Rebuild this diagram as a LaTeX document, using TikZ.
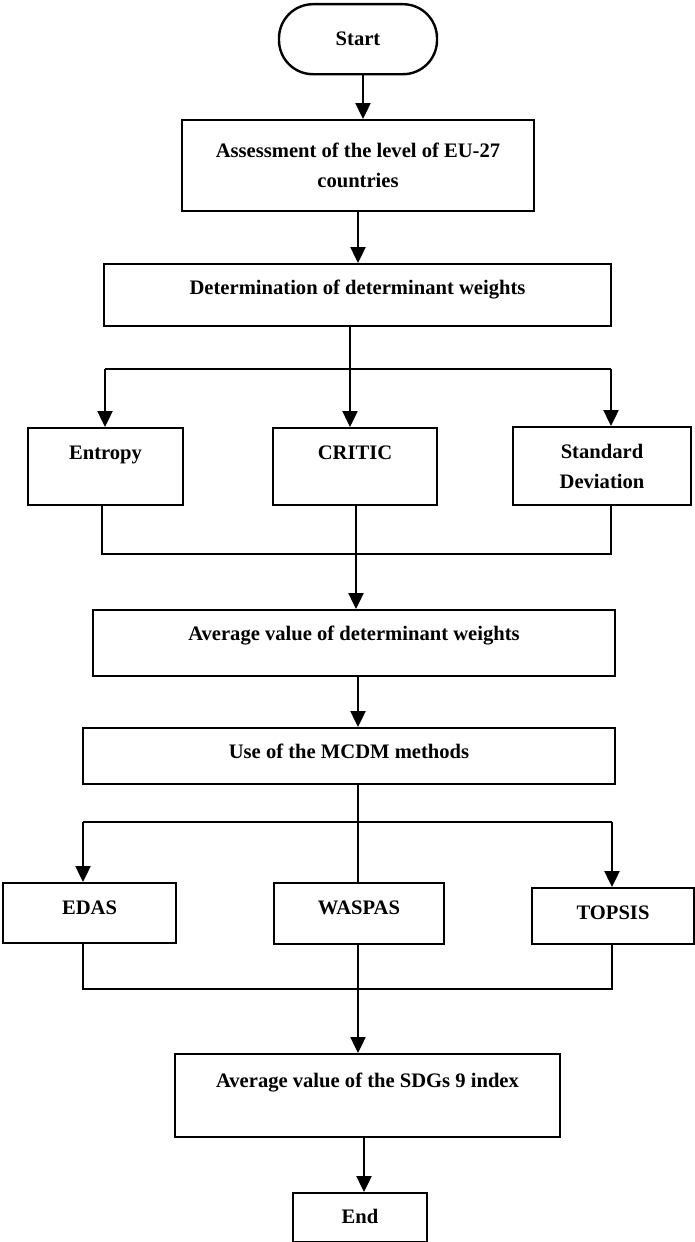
\documentclass[tikz,border=0pt]{standalone}
\usepackage{fontspec}
\setmainfont{Liberation Serif}
\usetikzlibrary{arrows.meta}
\tikzset{>={Triangle[length=8pt,width=7.5pt]}}
\tikzset{
    box/.style={draw, line width=1.2pt, anchor=north, inner xsep=2pt, inner ysep=0pt,
        font=\bfseries\fontsize{10.3}{15}\selectfont},
    flow/.style={line width=1.2pt},
}

\begin{document}
\begin{tikzpicture}[x=0.5pt, y=-0.5pt]
    \useasboundingbox (0,0) rectangle (695,1242);
    % main column
    \node[box, rounded corners=17pt, minimum width=79pt, text height=20.5pt, text depth=14.5pt] (start) at (358,3) {Start};
    \node[box, minimum width=176pt, minimum height=45.5pt, align=center] (assess) at (358,119) {Assessment of the level of EU-27\\countries};
    \node[box, minimum width=253.5pt, text height=15pt, text depth=16pt] (determ) at (357.5,263) {Determination of determinant weights};
    % weighting methods
    \node[box, minimum width=77.5pt, text height=15.5pt, text depth=23pt] (entropy) at (105.5,427) {Entropy};
    \node[box, minimum width=82pt, text height=15.5pt, text depth=23pt] (critic) at (355,427) {CRITIC};
    \node[box, minimum width=89pt, minimum height=39pt, align=center] (sd) at (602,426) {Standard\\Deviation};
    \node[box, minimum width=261pt, text height=15pt, text depth=18pt] (avgw) at (354,609) {Average value of determinant weights};
    \node[box, minimum width=266pt, text height=15pt, text depth=13pt] (mcdm) at (349,727) {Use of the MCDM methods};
    % ranking methods
    \node[box, minimum width=86.5pt, text height=15.5pt, text depth=14.5pt] (edas) at (89.5,882) {EDAS};
    \node[box, minimum width=85pt, text height=15.5pt, text depth=15pt] (waspas) at (359,882) {WASPAS};
    \node[box, minimum width=81pt, text height=15.5pt, text depth=12.5pt] (topsis) at (613,887) {TOPSIS};
    \node[box, minimum width=192.5pt, text height=16.5pt, text depth=25pt] (sdgs) at (367.5,1053) {Average value of the SDGs 9 index};
    \node[box, minimum width=67pt, text height=15pt, text depth=9.5pt] (finish) at (360,1192) {End};

    % junction points
    \coordinate (split1) at (350,369);
    \coordinate (b1l) at (105,369);
    \coordinate (b1r) at (611,369);
    \coordinate (m1l) at (102,554);
    \coordinate (m1c) at (356,554);
    \coordinate (m1r) at (611,554);
    \coordinate (split2) at (358,822);
    \coordinate (b2l) at (83,822);
    \coordinate (b2r) at (612,822);
    \coordinate (m2l) at (83,989);
    \coordinate (m2c) at (358,989);
    \coordinate (m2r) at (612,989);

    \draw[flow, ->] ([xshift=2.5pt]start.south) -- ([xshift=2.5pt]start.south |- assess.north);
    \draw[flow, ->] (assess.south) -- (assess.south |- determ.north);
    \draw[flow] (split1 |- determ.south) -- (split1);
    \draw[flow] (b1l) -- (b1r);
    \draw[flow, ->] (b1l) -- (b1l |- entropy.north);
    \draw[flow, ->] (split1) -- (split1 |- critic.north);
    \draw[flow, ->] (b1r) -- (b1r |- sd.north);
    \draw[flow] (m1l |- entropy.south) -- (m1l) -- (m1r) -- (m1r |- sd.south);
    \draw[flow, ->] (m1c |- critic.south) -- (m1c |- avgw.north);
    \draw[flow, ->] ([xshift=2pt]avgw.south) -- ([xshift=2pt]avgw.south |- mcdm.north);
    \draw[flow] (split2 |- mcdm.south) -- (split2) -- (split2 |- waspas.north);
    \draw[flow] (b2l) -- (b2r);
    \draw[flow, ->] (b2l) -- (b2l |- edas.north);
    \draw[flow, ->] (b2r) -- (b2r |- topsis.north);
    \draw[flow] (m2l |- edas.south) -- (m2l) -- (m2r) -- (m2r |- topsis.south);
    \draw[flow, ->] (m2c |- waspas.south) -- (m2c |- sdgs.north);
    \draw[flow, ->] ([xshift=-1.75pt]sdgs.south) -- ([xshift=-1.75pt]sdgs.south |- finish.north);
\end{tikzpicture}
\end{document}
